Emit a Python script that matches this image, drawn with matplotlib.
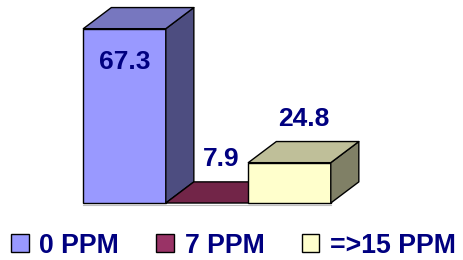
import numpy as np
import matplotlib
matplotlib.use("Agg")
import matplotlib.pyplot as plt
from matplotlib.patches import Polygon, Patch

# datos del grafico
categorias = ["0 PPM", "7 PPM", "=>15 PPM"]
valores = [67.3, 7.9, 24.8]
etiquetas = ["67.3", "7.9", "24.8"]

# colores estilo Excel: frente, tapa, lateral
frente = ["#9999FF", "#993366", "#FFFFCC"]
tapa = ["#7777BF", "#722548", "#BFBF99"]
lado = ["#4D4D80", "#4D1A33", "#808066"]

base = 12.0       # minimo del eje
dx, dy = 0.34, 6.7  # profundidad 3D en unidades de datos
ancho = 1.0

plt.rcParams['font.family'] = ['Liberation Sans', 'DejaVu Sans']

fig = plt.figure(figsize=(4.64, 2.6), dpi=100)
ax = fig.add_axes([0, 0, 1, 1])
ax.set_xlim(-1.51, 4.115)
ax.set_ylim(-6.08, 76.4)
ax.axis("off")

# linea del piso
ax.plot([-0.5, 2.5], [base - 0.5, base - 0.5], color="#C0C0C0", lw=0.8, zorder=0)

for i, v in enumerate(valores):
    x0 = i - ancho / 2
    x1 = i + ancho / 2
    top = max(v, base)
    kw = dict(edgecolor="black", lw=1.0, joinstyle="round")
    if top > base:
        ax.bar(i, top - base, bottom=base, width=ancho, color=frente[i],
               edgecolor="black", lw=1.0, zorder=2 + i)
        ax.add_patch(Polygon([[x1, base], [x1 + dx, base + dy], [x1 + dx, top + dy], [x1, top]],
                             facecolor=lado[i], zorder=2 + i, **kw))
    ax.add_patch(Polygon([[x0, top], [x1, top], [x1 + dx, top + dy], [x0 + dx, top + dy]],
                         facecolor=tapa[i], zorder=2 + i, **kw))

    ly = top + dy + 7.2
    lx = i + dx / 2
    if ly > 70:
        ly = v - 10.6
        lx = i
    ax.text(lx, ly, etiquetas[i], ha="center", va="center", fontsize=19,
            fontweight="bold", color="#000080", zorder=10)

handles = [Patch(facecolor=c, edgecolor="black", lw=1.0) for c in frente]
leg = fig.legend(handles, categorias, loc="center", bbox_to_anchor=(0.503, 0.055),
                 ncol=3, frameon=False, handlelength=0.66, handleheight=0.66,
                 handletextpad=0.4, columnspacing=1.4, borderpad=0,
                 prop=dict(family="Liberation Sans", weight="bold", size=19.2))
for t in leg.get_texts():
    t.set_color("#000080")

fig.savefig("out.png", dpi=100)
